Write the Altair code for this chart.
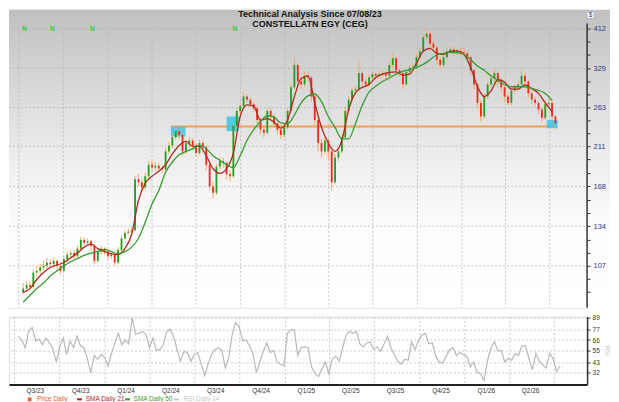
import altair as alt
import pandas as pd

TITLE_1 = "Technical Analysis Since 07/08/23"
TITLE_2 = "CONSTELLATN EGY (CEG)"

FIRST_DATE = "2023-07-10"
FIRST_OPEN = 92
CLOSE = [94, 96, 95, 103, 104, 106, 107, 109, 108, 110,
         107, 104, 111, 114, 115, 113, 118, 124, 122, 123,
         120, 110, 116, 118, 116, 113, 114, 109, 117, 125,
         129, 130, 131, 175, 172, 167, 178, 190, 187, 189,
         186, 185, 205, 212, 222, 230, 225, 205, 215, 218,
         212, 203, 215, 210, 190, 168, 162, 188, 194, 192,
         180, 178, 237, 258, 265, 280, 275, 268, 262, 245,
         232, 228, 258, 250, 240, 232, 225, 235, 258, 295,
         335, 305, 300, 315, 312, 280, 245, 215, 205, 218,
         205, 172, 198, 205, 222, 258, 275, 290, 292, 320,
         305, 300, 312, 318, 315, 318, 320, 315, 335, 348,
         325, 320, 300, 322, 330, 332, 350, 362, 392, 400,
         378, 370, 345, 335, 350, 362, 366, 360, 363, 360,
         358, 350, 325, 300, 270, 250, 280, 300, 310, 320,
         305, 295, 280, 270, 290, 295, 300, 315, 305, 285,
         275, 270, 260, 248, 268, 270, 250, 240]
HIGH = [97, 98, 98, 105, 107, 108, 110, 112, 111, 112,
        111, 108, 113, 116, 117, 117, 120, 126, 126, 125,
        124, 121, 118, 120, 119, 117, 116, 115, 119, 127,
        131, 132, 134, 178, 181, 175, 182, 194, 194, 193,
        192, 190, 209, 216, 226, 235, 233, 227, 218, 222,
        221, 214, 219, 218, 212, 192, 172, 191, 198, 198,
        194, 184, 241, 262, 270, 287, 284, 279, 272, 265,
        248, 236, 262, 262, 254, 243, 236, 240, 263, 300,
        348, 338, 310, 322, 322, 315, 283, 248, 220, 222,
        221, 208, 202, 210, 226, 264, 281, 295, 298, 342,
        324, 310, 317, 323, 322, 324, 326, 324, 341, 356,
        351, 329, 323, 327, 336, 338, 356, 370, 400, 412,
        404, 384, 373, 350, 356, 368, 373, 372, 370, 368,
        370, 362, 353, 328, 303, 274, 285, 305, 316, 328,
        324, 309, 298, 284, 294, 300, 306, 325, 319, 308,
        289, 280, 273, 263, 272, 276, 273, 252]
LOW = [91, 92, 93, 94, 101, 102, 104, 105, 106, 106,
       104, 102, 103, 110, 112, 111, 112, 117, 120, 120,
       116, 108, 109, 114, 114, 111, 111, 107, 108, 116,
       124, 127, 128, 130, 168, 163, 165, 176, 183, 184,
       182, 181, 183, 202, 209, 219, 220, 200, 202, 211,
       208, 199, 201, 204, 184, 164, 157, 160, 185, 187,
       175, 173, 176, 233, 254, 262, 270, 264, 257, 240,
       226, 222, 226, 246, 235, 226, 220, 222, 232, 255,
       292, 298, 292, 296, 305, 272, 238, 205, 198, 202,
       195, 164, 170, 194, 203, 220, 254, 272, 285, 288,
       298, 295, 296, 308, 309, 311, 313, 308, 312, 331,
       318, 313, 292, 297, 318, 325, 328, 346, 358, 386,
       370, 362, 336, 327, 331, 346, 356, 353, 354, 353,
       352, 342, 316, 292, 262, 243, 247, 276, 295, 305,
       298, 288, 272, 266, 266, 285, 290, 296, 299, 278,
       268, 264, 253, 242, 245, 263, 244, 232]
# moving averages, read every second week
SMA21 = [92, 94, 99, 103, 106, 107.5, 109, 112, 115, 119,
         121, 118, 116, 114.5, 114, 118, 128, 155, 171, 178,
         183, 190, 202, 212, 217, 211, 211, 200, 186, 181,
         186, 203, 250, 267, 265, 245, 247, 242, 234, 245,
         280, 310, 315, 270, 235, 215, 205, 218, 260, 286,
         295, 300, 312, 318, 321, 322, 316, 318, 338, 362,
         368, 358, 356, 362, 363, 356, 330, 296, 280, 289,
         308, 304, 292, 292, 299, 293, 285, 270, 257]
SMA50 = [87, 90.5, 94, 97, 101, 104, 107, 109.5, 111.5, 113.5,
         115, 116, 117.5, 116, 114.5, 116, 119, 125, 137, 152,
         164, 182, 193, 201, 205, 208, 212, 208, 200, 195,
         190, 187, 200, 218, 232, 243, 251, 249, 241, 240,
         252, 270, 281, 284, 272, 250, 235, 220, 220, 240,
         266, 287, 297, 305, 311, 318, 323, 326, 330, 336,
         345, 355, 358, 360, 359, 356, 345, 333, 325, 315,
         307, 300, 296, 296, 296, 293, 290, 285, 274]
RSI14 = [70, 66, 58, 75, 79, 65, 67, 61, 68, 63,
         57, 43, 59, 68, 51, 65, 58, 70, 60, 58,
         47, 32, 50, 46, 51, 48, 39, 52, 63, 73,
         61, 66, 62, 89, 72, 73, 75, 72, 58, 68,
         55, 56, 61, 75, 77, 70, 56, 44, 54, 53,
         44, 51, 53, 41, 29, 41, 51, 56, 58, 55,
         37, 48, 72, 84, 80, 65, 66, 60, 52, 32,
         44, 54, 63, 53, 55, 43, 41, 39, 73, 77,
         76, 50, 58, 59, 58, 38, 31, 28, 36, 43,
         31, 46, 49, 44, 58, 71, 75, 73, 75, 62,
         59, 63, 64, 56, 59, 54, 62, 70, 58, 51,
         44, 41, 46, 45, 64, 56, 66, 71, 73, 62,
         63, 49, 43, 42, 49, 56, 58, 50, 53, 51,
         49, 38, 43, 32, 31, 24, 45, 58, 64, 55,
         55, 43, 47, 45, 52, 50, 60, 60, 47, 35,
         52, 44, 40, 37, 52, 47, 33, 39]

QUARTERS = ["2023-07-01", "2023-10-01", "2024-01-01", "2024-04-01", "2024-07-01",
            "2024-10-01", "2025-01-01", "2025-04-01", "2025-07-01", "2025-10-01",
            "2026-01-01", "2026-04-01", "2026-07-01"]
PRICE_LABELS = [107, 134, 168, 211, 263, 329, 412]
PRICE_MINOR = [92.1, 99.3, 115.3, 124.3, 144.5, 155.8, 181.3, 195.6,
               227.5, 245, 283.9, 305, 354.5, 382.7]
RSI_LABELS = [32, 43, 55, 66, 77, 89]
N_DATES = ["2023-07-13", "2023-09-08", "2023-11-30", "2024-09-19"]
BOX_START = ["2024-05-10", "2024-09-02", "2026-06-25"]
BOX_END = ["2024-06-09", "2024-09-27", "2026-07-17"]
BOX_LO = [223, 230, 234]
BOX_HI = [236, 250, 245]
SUPPORT_START = ["2024-05-10"]
SUPPORT_END = ["2026-07-17"]
SUPPORT_PRICE = [236]
LEGEND = ["Price Daily", "SMA Daily 21", "SMA Daily 50", "RSI Daily 14"]

# ---------------- tables ----------------
dates = pd.date_range(FIRST_DATE, periods=len(CLOSE), freq="7D").strftime("%Y-%m-%d").tolist()
candles = pd.DataFrame({"date": dates, "open": [FIRST_OPEN] + CLOSE[:-1],
                        "close": CLOSE, "hi": HIGH, "lo": LOW})
sma = pd.DataFrame({"date": dates[::2], "sma21": SMA21, "sma50": SMA50})
rsi = pd.DataFrame({"date": dates, "rsi": RSI14})
quarters = pd.DataFrame({"q": QUARTERS})
hgrid = pd.DataFrame({"v": PRICE_LABELS})
ndf = pd.DataFrame({"d": N_DATES})
boxes = pd.DataFrame({"s": BOX_START, "e": BOX_END, "lo": BOX_LO, "hi": BOX_HI})
support = pd.DataFrame({"s": SUPPORT_START, "e": SUPPORT_END, "p": SUPPORT_PRICE})
one = alt.Data(values=[{}])

W = 580
H_PRICE = 299
H_RSI = 68
FONT = "Liberation Sans"


def dt(s):
    return alt.DateTime(year=int(s[:4]), month=int(s[5:7]), date=int(s[8:10]), utc=True)


x_scale = alt.Scale(type="utc", domain=[dt("2023-06-21"), dt("2026-09-06")])
price_scale = alt.Scale(type="log", domain=[84.35, 458.7], nice=False)
rsi_scale = alt.Scale(domain=[19.9, 90.3], nice=False, zero=False)

price_axis = alt.Axis(
    orient="right", values=sorted(PRICE_LABELS + PRICE_MINOR),
    labelExpr=f"indexof({PRICE_LABELS}, datum.value) >= 0 ? format(datum.value, 'd') : ''",
    domain=False, grid=False, tickSize=3, tickColor="#333333", tickWidth=1,
    labelColor="#35358a", labelFontSize=7.5, labelFont=FONT, labelPadding=3,
    labelOverlap=False, title=None, zindex=1)


def xp(field):
    return alt.X(field, type="temporal", scale=x_scale, axis=None)


def yp(field):
    return alt.Y(field, type="quantitative", scale=price_scale, axis=price_axis)


bg = alt.Chart(one).mark_rect(
    color=alt.LinearGradient(
        gradient="linear", x1=0, x2=0, y1=0, y2=1,
        stops=[alt.GradientStop(offset=0, color="#c0c0c0"),
               alt.GradientStop(offset=0.3, color="#dcdcdc"),
               alt.GradientStop(offset=0.55, color="#f1f1f1"),
               alt.GradientStop(offset=0.75, color="#fdfdfd"),
               alt.GradientStop(offset=1, color="#ffffff")]),
    strokeWidth=0,
).encode(x=alt.value(0), x2=alt.value(603), y=alt.value(0), y2=alt.value(H_PRICE))

vgrid = alt.Chart(quarters).mark_rule(color="#b5b5b5", strokeWidth=0.8, strokeDash=[2, 2]).encode(
    x=xp("q"), y=alt.value(22), y2=alt.value(H_PRICE))
hgrid_l = alt.Chart(hgrid).mark_rule(color="#b5b5b5", strokeWidth=0.8, strokeDash=[2, 2]).encode(
    y=yp("v"), x=alt.value(0), x2=alt.value(W))

support_l = alt.Chart(support).mark_rule(color="#f5a050", strokeWidth=2).encode(
    x=xp("s"), x2=alt.X2("e"), y=yp("p"))
boxes_l = alt.Chart(boxes).mark_rect(color="#3cc3e2", opacity=0.85).encode(
    x=xp("s"), x2=alt.X2("e"), y=yp("lo"), y2=alt.Y2("hi"))

wicks = alt.Chart(candles).mark_rule(color="#f2a65a", strokeWidth=1, opacity=0.9).encode(
    x=xp("date"), y=yp("lo"), y2=alt.Y2("hi"))
bodies = alt.Chart(candles).mark_bar(width=1.8).encode(
    x=xp("date"), y=yp("open"), y2=alt.Y2("close"),
    color=alt.condition(alt.datum.close >= alt.datum.open,
                        alt.value("#1f9e1f"), alt.value("#ec2a1c")))

sma21_l = alt.Chart(sma).mark_line(color="#b0281f", strokeWidth=1.3, interpolate="monotone").encode(
    x=xp("date"), y=yp("sma21"))
sma50_l = alt.Chart(sma).mark_line(color="#3a9a32", strokeWidth=1.3, interpolate="monotone").encode(
    x=xp("date"), y=yp("sma50"))

n_l = alt.Chart(ndf).mark_text(text="N", color="#2fcf2f", fontSize=6.5, fontWeight="bold", font=FONT).encode(
    x=xp("d"), y=alt.value(19))

axis_line = alt.Chart(one).mark_rule(color="#333333", strokeWidth=1.5).encode(
    x=alt.value(W), y=alt.value(14), y2=alt.value(H_PRICE))

title1 = alt.Chart(one).mark_text(text=TITLE_1, fontSize=9, fontWeight="bold", font=FONT,
                                  baseline="top", align="center", color="#111111").encode(
    x=alt.value(302), y=alt.value(0))
title2 = alt.Chart(one).mark_text(text=TITLE_2, fontSize=9, fontWeight="bold", font=FONT,
                                  baseline="top", align="center", color="#111111").encode(
    x=alt.value(302), y=alt.value(10))
dollar_box = alt.Chart(one).mark_rect(fill="#ffffff", stroke="#9a9aa8", strokeWidth=0.6).encode(
    x=alt.value(580), x2=alt.value(587), y=alt.value(2), y2=alt.value(9))
dollar = alt.Chart(one).mark_text(text="$", fontSize=6.5, font=FONT, color="#35358a",
                                  baseline="middle", align="center").encode(
    x=alt.value(583.5), y=alt.value(5.5))

price = alt.layer(
    bg, vgrid, hgrid_l, support_l, boxes_l, wicks, bodies, sma21_l, sma50_l,
    n_l, axis_line, title1, title2, dollar_box, dollar,
).properties(width=W, height=H_PRICE)

# ---------------- RSI panel ----------------
q_values = [dt(q) for q in QUARTERS]
rsi_x_axis = alt.Axis(
    orient="bottom", values=q_values, grid=True, gridDash=[2, 2], gridColor="#cccccc",
    domainColor="#222222", domainWidth=2, ticks=False,
    labelExpr="datum.value >= utc(2026, 6, 1) ? '' : 'Q' + utcquarter(datum.value) + '/' + utcFormat(datum.value, '%y')",
    labelOffset=21, labelFontSize=6.5, labelFont=FONT, labelColor="#333333",
    labelPadding=3, labelFlush=False, labelOverlap=False, title=None)
rsi_y_axis = alt.Axis(
    orient="right", values=RSI_LABELS, grid=True, gridDash=[2, 2], gridColor="#cccccc",
    domainColor="#333333", domainWidth=1.5, tickColor="#333333", tickSize=3,
    labelColor="#333333", labelFontSize=6.5, labelFont=FONT, labelPadding=2,
    title="RSI", titleColor="#c8c8c8", titleFontSize=6.5, titleFontWeight="normal",
    titleFont=FONT, titleAngle=90, titlePadding=4)

rsi_line = alt.Chart(rsi).mark_line(color="#b8b8b8", strokeWidth=1.2).encode(
    x=alt.X("date", type="temporal", scale=x_scale, axis=rsi_x_axis),
    y=alt.Y("rsi", type="quantitative", scale=rsi_scale, axis=rsi_y_axis))

LEG_COLORS = ["#ef5a28", "#b0281f", "#3a9a32", "#c8c8c8"]
LEG_TEXT_X = [28, 77, 125, 175]
LEG_MARK_X = [20.7, 70.7, 119, 168]
LEG_Y = 83
legend_layers = []
for i, (label, col) in enumerate(zip(LEGEND, LEG_COLORS)):
    if i == 0:
        legend_layers.append(alt.Chart(one).mark_square(color=col, size=14, opacity=1).encode(
            x=alt.value(LEG_MARK_X[i]), y=alt.value(LEG_Y)))
    else:
        legend_layers.append(alt.Chart(one).mark_rule(color=col, strokeWidth=2).encode(
            x=alt.value(LEG_MARK_X[i] - 2.5), x2=alt.value(LEG_MARK_X[i] + 2.5), y=alt.value(LEG_Y)))
    legend_layers.append(alt.Chart(one).mark_text(text=label, color=col, fontSize=6.5, font=FONT,
                                                  align="left", baseline="middle").encode(
        x=alt.value(LEG_TEXT_X[i]), y=alt.value(LEG_Y)))

rsi_panel = alt.layer(rsi_line, *legend_layers).properties(width=W, height=H_RSI)

chart = alt.vconcat(price, rsi_panel, spacing=4, padding=0).configure_view(
    strokeWidth=0).configure(font=FONT)

chart.save("out.html", embed_options={"renderer": "svg", "actions": False})
